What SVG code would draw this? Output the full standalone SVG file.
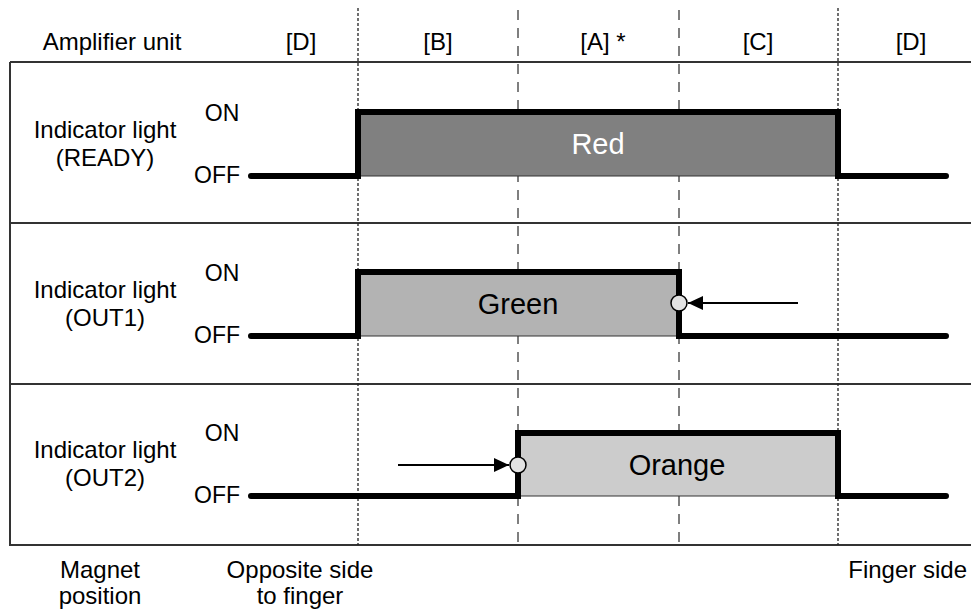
<svg xmlns="http://www.w3.org/2000/svg" width="971" height="610" viewBox="0 0 971 610">
<style>
text{font-family:"Liberation Sans",Arial,sans-serif;fill:#000}
.t{font-size:24px}
.s{font-size:23px}
.big{font-size:29px}
.m{text-anchor:middle}
.e{text-anchor:end}
.frame{stroke:#333;stroke-width:2;fill:none}
.dot{stroke:#222;stroke-width:1.3;stroke-dasharray:3 2;fill:none}
.dash{stroke:#555;stroke-width:1.5;stroke-dasharray:10 8;fill:none}
.wave{stroke:#000;stroke-width:6;fill:none;stroke-linecap:round;stroke-linejoin:miter}
.box{stroke:#333;stroke-width:1}
.pt{fill:#e3e3e3;stroke:#000;stroke-width:1.5}
.arr{stroke:#000;stroke-width:2;fill:none}
</style>
<defs>
<marker id="ah" viewBox="0 0 15 14" refX="15" refY="7" markerWidth="15" markerHeight="14" markerUnits="userSpaceOnUse" orient="auto">
<path d="M0,0 L15,7 L0,14 Z" fill="#000"/>
</marker>
</defs>
<g id="frame">
<path class="frame" d="M10,62 H971 M10,62 V545 H971 M10,223 H971 M10,384 H971"/>
<path class="dot" d="M358,8 V545 M838,8 V545"/>
<path class="dash" d="M518,10 V545 M679,10 V545"/>
</g>
<g id="header">
<text class="t m" x="112" y="50">Amplifier unit</text>
<text class="t m" x="301" y="50">[D]</text>
<text class="t m" x="438" y="50">[B]</text>
<text class="t m" x="603" y="50">[A] *</text>
<text class="t m" x="758" y="50">[C]</text>
<text class="t m" x="911" y="50">[D]</text>
</g>
<g id="ready">
<text class="t m" x="105" y="138">Indicator light</text>
<text class="t m" x="105" y="166">(READY)</text>
<text class="s m" x="222" y="121">ON</text>
<text class="s e" x="240" y="183">OFF</text>
<rect class="box" x="358" y="112" width="480" height="64" fill="#808080"/>
<path class="wave" d="M251,176 H358 V112 H838 V176 H946"/>
<text class="big m" x="598" y="154" style="fill:#fff">Red</text>
</g>
<g id="out1">
<text class="t m" x="105" y="298">Indicator light</text>
<text class="t m" x="105" y="326">(OUT1)</text>
<text class="s m" x="222" y="281">ON</text>
<text class="s e" x="240" y="343">OFF</text>
<rect class="box" x="358" y="272" width="321" height="64" fill="#b3b3b3"/>
<path class="wave" d="M251,336 H358 V272 H679 V336 H946"/>
<text class="big m" x="518" y="314">Green</text>
</g>
<g id="out2">
<text class="t m" x="105" y="458">Indicator light</text>
<text class="t m" x="105" y="486">(OUT2)</text>
<text class="s m" x="222" y="441">ON</text>
<text class="s e" x="240" y="503">OFF</text>
<rect class="box" x="518" y="433" width="320" height="63" fill="#cccccc"/>
<path class="wave" d="M251,496 H518 V433 H838 V496 H946"/>
<text class="big m" x="677" y="475">Orange</text>
</g>
<g id="connectors">
<line class="arr" x1="798" y1="303" x2="688" y2="303" marker-end="url(#ah)"/>
<circle class="pt" cx="679" cy="303" r="8"/>
<line class="arr" x1="398" y1="465" x2="509" y2="465" marker-end="url(#ah)"/>
<circle class="pt" cx="518" cy="465" r="8"/>
</g>
<g id="footer">
<text class="t m" x="100" y="578">Magnet</text>
<text class="t m" x="100" y="604">position</text>
<text class="t m" x="300" y="578">Opposite side</text>
<text class="t m" x="300" y="604">to finger</text>
<text class="t e" x="967" y="578">Finger side</text>
</g>
</svg>
